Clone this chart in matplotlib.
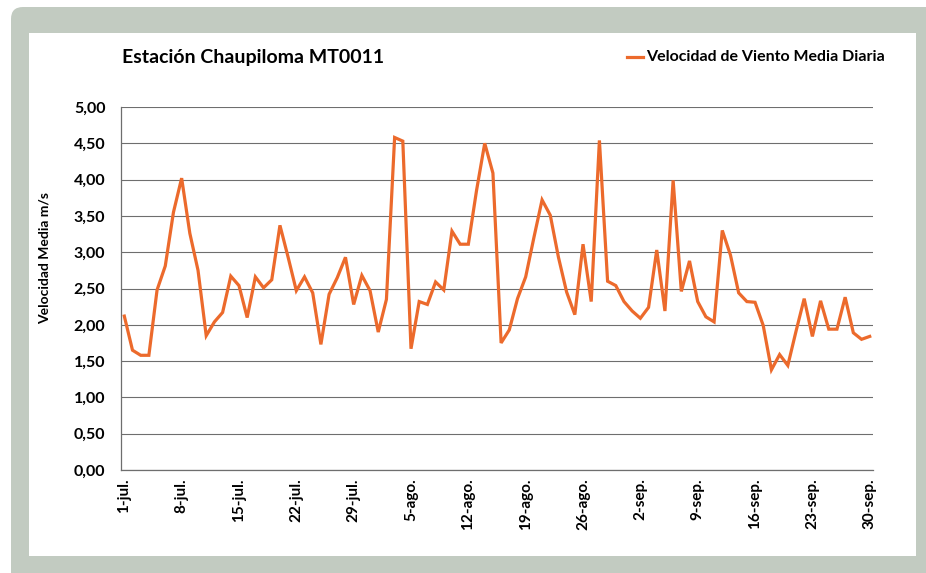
import numpy as np
import matplotlib.pyplot as plt
from matplotlib.patches import FancyBboxPatch, Rectangle
from matplotlib.lines import Line2D

plt.rcParams['font.family'] = ['Lato', 'DejaVu Sans']

# daily mean wind speed, 1-jul .. 30-sep
velocidad = [2.12, 1.65, 1.58, 1.58, 2.48, 2.81, 3.55, 4.02, 3.26, 2.75,
             1.85, 2.04, 2.17, 2.67, 2.54, 2.10, 2.66, 2.51, 2.62, 3.37,
             2.93, 2.47, 2.66, 2.44, 1.73, 2.42, 2.65, 2.93, 2.28, 2.68,
             2.47, 1.90, 2.35, 4.58, 4.53, 1.67, 2.32, 2.28, 2.59, 2.48,
             3.29, 3.11, 3.11, 3.85, 4.50, 4.09, 1.75, 1.93, 2.36, 2.66,
             3.20, 3.72, 3.51, 2.93, 2.45, 2.14, 3.11, 2.32, 4.54, 2.60,
             2.54, 2.32, 2.19, 2.09, 2.24, 3.03, 2.19, 3.99, 2.46, 2.88,
             2.32, 2.11, 2.04, 3.30, 2.96, 2.44, 2.32, 2.31, 1.99, 1.38,
             1.59, 1.44, 1.91, 2.36, 1.84, 2.33, 1.94, 1.94, 2.38, 1.89,
             1.80, 1.84]
etiquetas = ['1-jul.', '8-jul.', '15-jul.', '22-jul.', '29-jul.', '5-ago.',
             '12-ago.', '19-ago.', '26-ago.', '2-sep.', '9-sep.', '16-sep.',
             '23-sep.', '30-sep.']
valores_y = np.arange(0, 5.01, 0.5)

naranja = '#EC6A2C'
gris_marco = '#c2cbc1'

fig = plt.figure(figsize=(9.26, 5.73), dpi=100)

# frame: grey rounded box with white panel inside
fondo = fig.add_axes([0, 0, 1, 1])
fondo.set_xlim(0, 926)
fondo.set_ylim(573, 0)
fondo.axis('off')
fondo.add_patch(FancyBboxPatch((11, 7), 940, 590,
                               boxstyle='round,pad=0,rounding_size=12',
                               facecolor=gris_marco, edgecolor='none'))
fondo.add_patch(Rectangle((29, 33), 887, 523, facecolor='white', edgecolor='none'))

ax = fig.add_axes([120.7 / 926, 1 - 470 / 573, 752.3 / 926, 363 / 573])
ax.set_facecolor('none')
dias = np.arange(len(velocidad))
ax.plot(dias, velocidad, color=naranja, lw=2.3, solid_joinstyle='miter', zorder=3)

ax.set_xlim(-0.44, 91.4)
ax.set_ylim(0, 5)
ax.set_yticks(valores_y)
ax.set_yticklabels([f'{v:.2f}'.replace('.', ',') for v in valores_y],
                   fontsize=11.5, fontweight='bold')
ax.set_xticks(np.arange(0, 92, 7))
ax.set_xticklabels(etiquetas, rotation=90, fontsize=11, fontweight='bold')
ax.tick_params(axis='y', length=0, pad=11)
ax.tick_params(axis='x', length=0, pad=6)
ax.grid(axis='y', color='#6e6e6e', lw=0.8)
for lado in ['top', 'right']:
    ax.spines[lado].set_visible(False)
for lado in ['left', 'bottom']:
    ax.spines[lado].set_color('#6e6e6e')
    ax.spines[lado].set_linewidth(0.9)

fig.text(45 / 926, 1 - 258 / 573, 'Velocidad Media m/s', rotation=90,
         ha='center', va='center', fontsize=10, fontweight='bold')
fig.text(122 / 926, 1 - 57 / 573, 'Estación Chaupiloma MT0011',
         ha='left', va='center', fontsize=14, fontweight='bold')

# legend entry
fondo.add_line(Line2D([627, 643], [57, 57], color=naranja, lw=2.3))
fondo.text(646, 57, 'Velocidad de Viento Media Diaria', ha='left', va='center',
           fontsize=11.5, fontweight='bold')

fig.savefig('out.png', dpi=100)
